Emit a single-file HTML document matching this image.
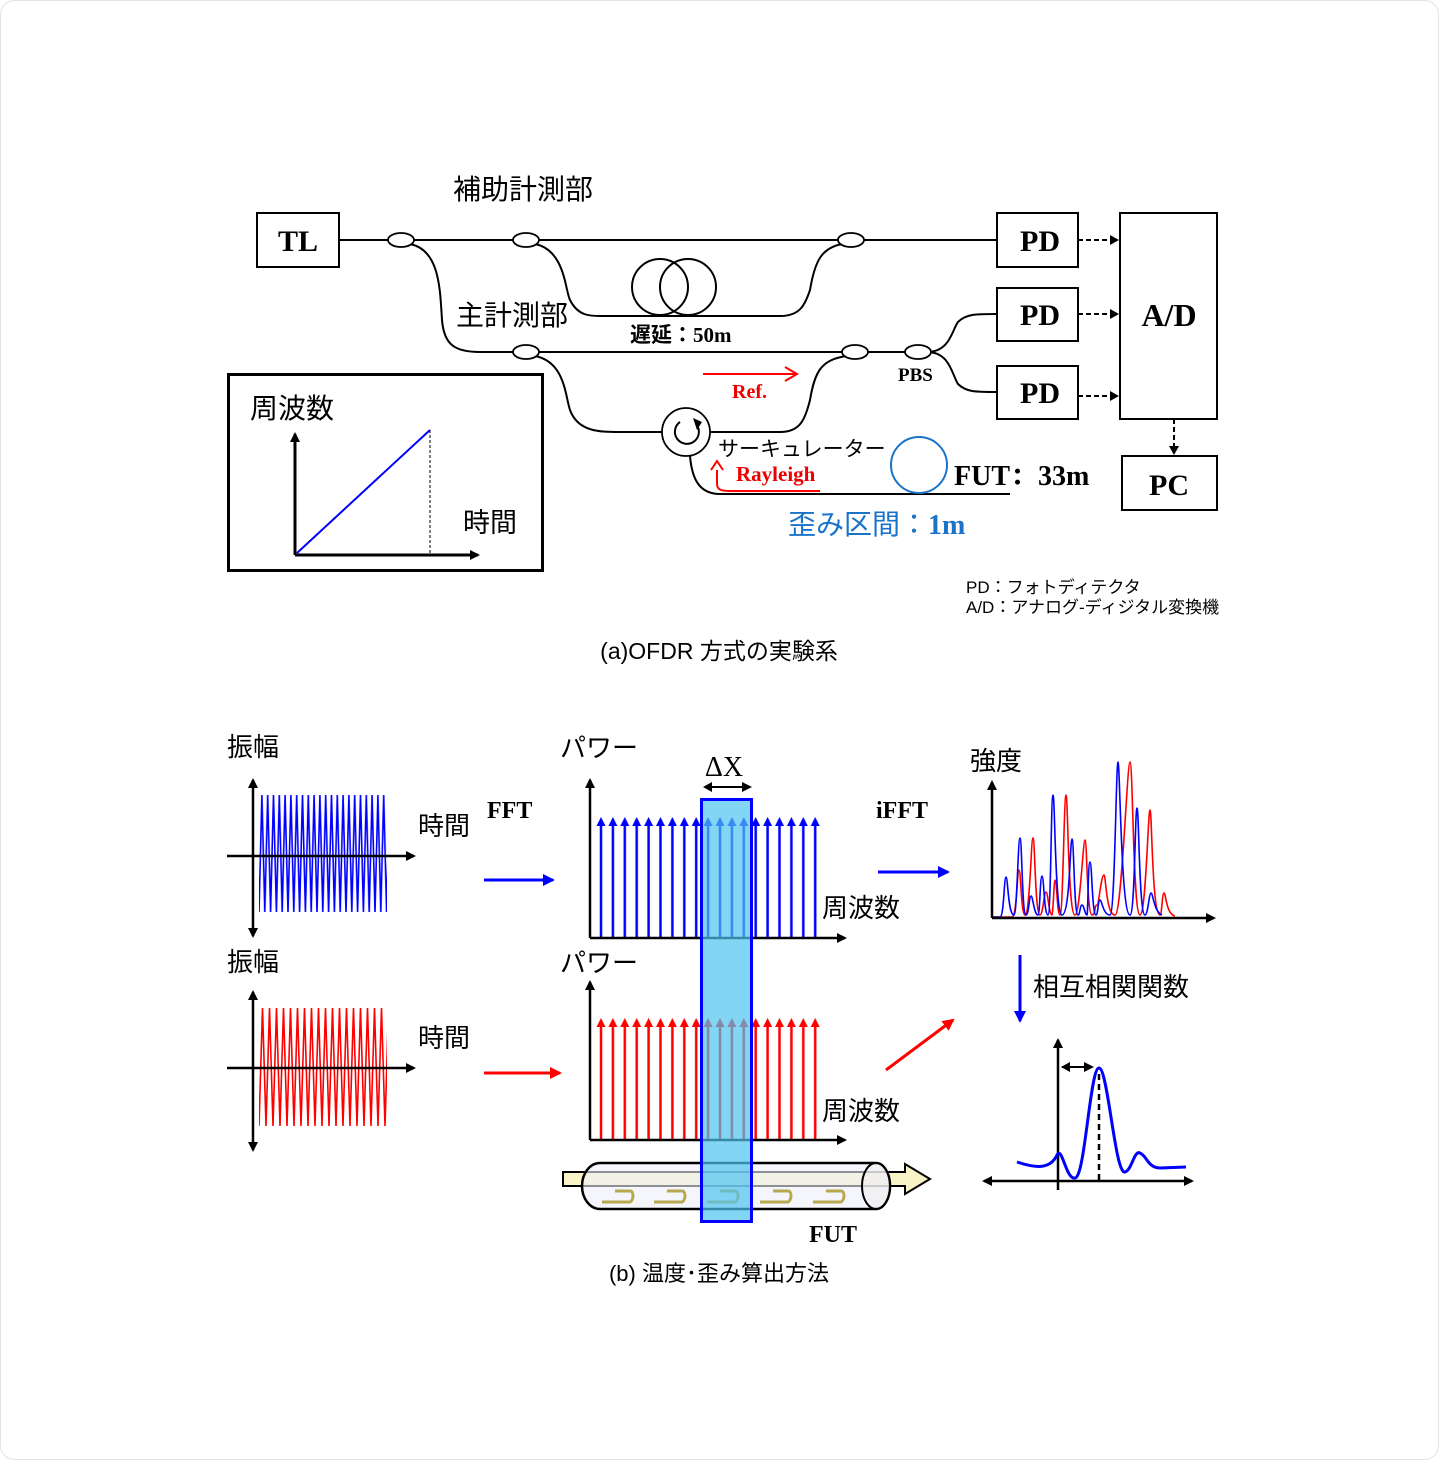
<!DOCTYPE html>
<html><head><meta charset="utf-8"><style>
html,body{margin:0;padding:0;background:#fff}
svg{display:block}
.j{font-family:"Liberation Sans","Noto Sans CJK JP",sans-serif}
.s{font-family:"Liberation Serif","Noto Serif CJK SC",serif;font-weight:bold}
</style></head><body>
<svg width="1439" height="1460" viewBox="0 0 1439 1460" xmlns="http://www.w3.org/2000/svg">
<defs>
<marker id="ah" markerWidth="10" markerHeight="10" refX="8" refY="5" orient="auto" markerUnits="userSpaceOnUse"><path d="M0,0 L10,5 L0,10 z" fill="#000"/></marker>
<marker id="ahb" markerWidth="12" markerHeight="12" refX="10" refY="6" orient="auto" markerUnits="userSpaceOnUse"><path d="M0,0 L12,6 L0,12 z" fill="#00f"/></marker>
<marker id="ahr" markerWidth="12" markerHeight="12" refX="10" refY="6" orient="auto" markerUnits="userSpaceOnUse"><path d="M0,0 L12,6 L0,12 z" fill="#f00"/></marker>
<pattern id="zb" x="259" y="795" width="5.8" height="117" patternUnits="userSpaceOnUse"><polyline points="0,117 2.9,0 5.8,117" fill="none" stroke="#00f" stroke-width="1.6"/></pattern>
<pattern id="zr" x="259" y="1008" width="7" height="118" patternUnits="userSpaceOnUse"><polyline points="0,118 3.5,0 7,118" fill="none" stroke="#f00" stroke-width="1.6"/></pattern>
<pattern id="ab" x="595" y="815" width="11.9" height="125" patternUnits="userSpaceOnUse"><line x1="6" y1="8" x2="6" y2="125" stroke="#00f" stroke-width="2.5"/><path d="M1.5,11 L6,2 L10.5,11 z" fill="#00f"/></pattern>
<pattern id="ar" x="595" y="1016" width="11.9" height="125" patternUnits="userSpaceOnUse"><line x1="6" y1="8" x2="6" y2="125" stroke="#f00" stroke-width="2.5"/><path d="M1.5,11 L6,2 L10.5,11 z" fill="#f00"/></pattern>
</defs>
<rect x="0.5" y="0.5" width="1438" height="1459" rx="14" fill="#fff" stroke="#e3e3e3"/>

<!-- (a) -->
<text x="453" y="199" font-size="28" class="j">補助計測部</text>
<rect x="257" y="213" width="82" height="54" fill="#fff" stroke="#000" stroke-width="2"/>
<text x="298" y="251" font-size="30" class="s" text-anchor="middle">TL</text>
<g fill="none" stroke="#000" stroke-width="2">
<line x1="339" y1="240" x2="997" y2="240"/>
<path d="M410,244 C440,250 440,290 442,320 C444,345 455,352 480,352 L918,352"/>
<path d="M535,244 C565,250 565,290 570,300 C578,316 590,316 600,316 L780,316 C800,316 805,305 810,290 C815,260 822,248 842,244"/>
<circle cx="660" cy="287" r="28"/><circle cx="688" cy="287" r="28"/>
<path d="M535,356 C565,362 565,395 570,410 C578,432 600,432 620,432 L662,432"/>
<path d="M710,432 L780,432 C800,432 805,420 810,400 C815,370 822,360 846,356"/>
<path d="M690,456 C692,480 700,494 720,494 L1010,494"/>
<path d="M927,352 C950,352 952,330 958,322 C966,314 975,314 997,314"/>
<path d="M927,352 C950,352 952,375 958,384 C966,392 975,392 997,392"/>
<line x1="1078" y1="240" x2="1112" y2="240" stroke-dasharray="5,3"/>
<line x1="1078" y1="314" x2="1112" y2="314" stroke-dasharray="5,3"/>
<line x1="1078" y1="396" x2="1112" y2="396" stroke-dasharray="5,3"/>
<line x1="1174" y1="419" x2="1174" y2="448" stroke-dasharray="5,3"/>
</g>
<g fill="#000"><path d="M1110,235 L1119,240 L1110,245z"/><path d="M1110,309 L1119,314 L1110,319z"/><path d="M1110,391 L1119,396 L1110,401z"/><path d="M1169,446 L1174,455 L1179,446z"/></g>
<g fill="#fff" stroke="#000" stroke-width="1.8">
<ellipse cx="401" cy="240" rx="13" ry="7"/><ellipse cx="526" cy="240" rx="13" ry="7"/><ellipse cx="851" cy="240" rx="13" ry="7"/>
<ellipse cx="526" cy="352" rx="13" ry="7"/><ellipse cx="855" cy="352" rx="13" ry="7"/><ellipse cx="918" cy="352" rx="13" ry="7"/>
<circle cx="686" cy="432" r="24"/>
</g>
<path d="M696,424 A12,12 0 1 1 680,422" fill="none" stroke="#000" stroke-width="2"/>
<path d="M693,418 L702,422 L697,430z" fill="#000"/>
<circle cx="919" cy="465" r="28" fill="none" stroke="#1a73c8" stroke-width="2"/>
<g fill="#fff" stroke="#000" stroke-width="2">
<rect x="997" y="213" width="81" height="54"/><rect x="997" y="288" width="81" height="53"/><rect x="997" y="366" width="81" height="53"/>
<rect x="1120" y="213" width="97" height="206"/><rect x="1122" y="456" width="95" height="54"/>
</g>
<g class="s" font-size="30" text-anchor="middle">
<text x="1040" y="251">PD</text><text x="1040" y="325">PD</text><text x="1040" y="403">PD</text>
<text x="1169" y="326" font-size="32">A/D</text><text x="1169" y="495">PC</text>
</g>
<text x="456" y="325" font-size="28" class="j">主計測部</text>
<text x="630" y="342" font-size="21" class="j" font-weight="bold">遅延：<tspan class="s">50m</tspan></text>
<text x="898" y="381" font-size="19" class="s">PBS</text>
<line x1="703" y1="374" x2="795" y2="374" stroke="#f00" stroke-width="2"/><path d="M785,367 L797,374 L785,381" fill="none" stroke="#f00" stroke-width="2"/>
<text x="732" y="398" font-size="20" class="s" fill="#e00">Ref.</text>
<text x="718" y="456" font-size="21" class="j">サーキュレーター</text>
<path d="M717,470 L717,484 C717,490 722,491 730,491 L820,491" fill="none" stroke="#f00" stroke-width="2"/><path d="M711,470 L717,461 L723,470" fill="none" stroke="#f00" stroke-width="2"/>
<text x="736" y="481" font-size="21" class="s" fill="#e00">Rayleigh</text>
<text x="954" y="485" font-size="28" class="s">FUT：33m</text>
<text x="788" y="534" font-size="28" class="j" fill="#1a73c8">歪み区間：<tspan class="s">1m</tspan></text>
<rect x="228.5" y="374.5" width="314" height="196" fill="#fff" stroke="#000" stroke-width="3"/>
<text x="250" y="418" font-size="28" class="j">周波数</text>
<text x="463" y="532" font-size="27" class="j">時間</text>
<line x1="295" y1="555" x2="295" y2="434" stroke="#000" stroke-width="3" marker-end="url(#ah)"/>
<line x1="295" y1="555" x2="478" y2="555" stroke="#000" stroke-width="3" marker-end="url(#ah)"/>
<line x1="297" y1="553" x2="430" y2="430" stroke="#00f" stroke-width="2"/>
<line x1="430" y1="430" x2="430" y2="553" stroke="#000" stroke-width="1" stroke-dasharray="3,2"/>
<text x="966" y="593" font-size="17" class="j">PD：フォトディテクタ</text>
<text x="966" y="613" font-size="17" class="j">A/D：アナログ-ディジタル変換機</text>
<text x="719" y="659" font-size="23" class="j" text-anchor="middle">(a)OFDR 方式の実験系</text>

<!-- (b) -->
<g class="j" font-size="26">
<text x="227" y="756">振幅</text><text x="227" y="971">振幅</text>
<text x="418" y="835">時間</text><text x="418" y="1047">時間</text>
<text x="560" y="757">パワー</text><text x="560" y="972">パワー</text>
<text x="822" y="917">周波数</text><text x="822" y="1120">周波数</text>
<text x="970" y="770">強度</text><text x="1033" y="996">相互相関関数</text>
</g>
<text x="487" y="818" font-size="24" class="s">FFT</text>
<text x="876" y="818" font-size="24" class="s">iFFT</text>
<rect x="259" y="795" width="128" height="117" fill="url(#zb)"/>
<rect x="259" y="1008" width="128" height="118" fill="url(#zr)"/>
<g stroke="#000" stroke-width="2.5">
<line x1="253" y1="856" x2="253" y2="780" marker-end="url(#ah)"/><line x1="253" y1="856" x2="253" y2="936" marker-end="url(#ah)"/>
<line x1="227" y1="856" x2="414" y2="856" marker-end="url(#ah)"/>
<line x1="253" y1="1068" x2="253" y2="992" marker-end="url(#ah)"/><line x1="253" y1="1068" x2="253" y2="1150" marker-end="url(#ah)"/>
<line x1="227" y1="1068" x2="414" y2="1068" marker-end="url(#ah)"/>
</g>
<line x1="484" y1="880" x2="553" y2="880" stroke="#00f" stroke-width="3" marker-end="url(#ahb)"/>
<line x1="484" y1="1073" x2="560" y2="1073" stroke="#f00" stroke-width="3" marker-end="url(#ahr)"/>
<rect x="595" y="815" width="226" height="124" fill="url(#ab)"/>
<rect x="595" y="1016" width="226" height="124" fill="url(#ar)"/>
<g stroke="#000" stroke-width="2.5">
<line x1="590" y1="938" x2="590" y2="780" marker-end="url(#ah)"/><line x1="590" y1="938" x2="845" y2="938" marker-end="url(#ah)"/>
<line x1="590" y1="1140" x2="590" y2="982" marker-end="url(#ah)"/><line x1="590" y1="1140" x2="845" y2="1140" marker-end="url(#ah)"/>
</g>
<!-- fiber -->
<path d="M563,1172 L905,1172 L905,1164 L930,1179 L905,1194 L905,1186 L563,1186z" fill="#f8f4c8" stroke="#000" stroke-width="2"/>
<path d="M600,1163 L876,1163 A14,23 0 0 1 876,1209 L600,1209 A18,23 0 0 1 600,1163z" fill="#eeeefa" fill-opacity="0.6" stroke="#000" stroke-width="2.5"/>
<ellipse cx="876" cy="1186" rx="14" ry="23" fill="#eee" fill-opacity="0.6" stroke="#000" stroke-width="2"/>
<g fill="none" stroke="#b8a850" stroke-width="3">
<path d="M615,1191 L630,1191 C634,1191 634,1200 630,1202 L602,1202"/><path d="M667,1191 L682,1191 C686,1191 686,1200 682,1202 L654,1202"/>
<path d="M720,1191 L735,1191 C739,1191 739,1200 735,1202 L707,1202"/><path d="M773,1191 L788,1191 C792,1191 792,1200 788,1202 L760,1202"/>
<path d="M826,1191 L841,1191 C845,1191 845,1200 841,1202 L813,1202"/>
</g>
<rect x="701.5" y="799.5" width="50" height="422" fill="#4fc3f0" fill-opacity="0.7" stroke="#00f" stroke-width="3"/>
<text x="724" y="776" font-size="28" font-family="Liberation Serif,serif" text-anchor="middle">ΔX</text>
<line x1="706" y1="787" x2="750" y2="787" stroke="#000" stroke-width="2" marker-end="url(#ah)"/>
<path d="M712,782 L703,787 L712,792z" fill="#000"/>
<text x="809" y="1242" font-size="24" class="s">FUT</text>
<line x1="878" y1="872" x2="948" y2="872" stroke="#00f" stroke-width="3" marker-end="url(#ahb)"/>
<line x1="886" y1="1070" x2="953" y2="1020" stroke="#f00" stroke-width="3" marker-end="url(#ahr)"/>
<!-- peaks -->
<g fill="none" stroke-width="1.6">
<path stroke="#f00" d="M993,917 L1012,917 C1017,917 1017,870 1019,870 C1021,870 1021,915 1025,915 C1030,915 1031,838 1033,838 C1035,838 1035,915 1040,915 C1043,915 1044,892 1046,892 C1048,892 1049,915 1052,915 C1053,915 1054,880 1055,880 C1057,880 1057,915 1060,915 C1063,915 1064,795 1066,795 C1068,795 1068,915 1075,915 C1080,915 1083,840 1085,840 C1087,840 1087,915 1092,915 C1096,915 1094,905 1097,905 C1099,905 1101,875 1104,875 C1106,875 1106,915 1115,915 C1122,915 1127,762 1130,762 C1133,762 1133,915 1140,915 C1146,915 1148,810 1150,810 C1152,810 1152,915 1160,915 C1162,915 1162,893 1164,893 C1166,893 1166,914 1175,916"/>
<path stroke="#00f" d="M993,917 L1000,917 C1004,917 1004,877 1006,877 C1008,877 1008,915 1014,915 C1017,915 1018,838 1020,838 C1022,838 1022,915 1026,915 C1029,915 1029,896 1031,896 C1033,896 1034,915 1038,915 C1040,915 1040,876 1042,876 C1044,876 1044,915 1048,915 C1051,915 1051,795 1053,795 C1055,795 1055,915 1062,915 C1070,915 1070,839 1072,839 C1074,839 1074,915 1078,915 C1080,915 1080,905 1082,905 C1084,905 1085,915 1087,915 C1088,915 1088,862 1090,862 C1092,862 1092,915 1096,915 C1098,915 1098,900 1100,900 C1102,900 1103,915 1110,915 C1115,915 1116,762 1118,762 C1120,762 1121,915 1130,915 C1135,915 1135,808 1137,808 C1139,808 1139,915 1145,915 C1148,915 1149,893 1151,893 C1153,893 1154,912 1162,915"/>
</g>
<g stroke="#000" stroke-width="2.5">
<line x1="992" y1="918" x2="992" y2="782" marker-end="url(#ah)"/><line x1="992" y1="918" x2="1214" y2="918" marker-end="url(#ah)"/>
<line x1="1058" y1="1190" x2="1058" y2="1040" marker-end="url(#ah)"/>
<line x1="1058" y1="1181" x2="1192" y2="1181" marker-end="url(#ah)"/><line x1="1058" y1="1181" x2="984" y2="1181" marker-end="url(#ah)"/>
<line x1="1099" y1="1180" x2="1099" y2="1072" stroke-dasharray="6,4"/>
</g>
<line x1="1020" y1="955" x2="1020" y2="1021" stroke="#00f" stroke-width="3" marker-end="url(#ahb)"/>
<line x1="1062" y1="1067" x2="1092" y2="1067" stroke="#000" stroke-width="2" marker-end="url(#ah)"/>
<path d="M1070,1062 L1061,1067 L1070,1072z" fill="#000"/>
<path d="M1017,1162 C1035,1168 1050,1170 1057,1155 C1062,1145 1066,1180 1075,1178 C1085,1178 1090,1068 1099,1068 C1108,1068 1115,1175 1125,1172 C1132,1170 1134,1150 1140,1153 C1147,1156 1148,1168 1160,1168 L1186,1167" fill="none" stroke="#00f" stroke-width="3"/>
<text x="719" y="1281" font-size="22" class="j" text-anchor="middle">(b) 温度･歪み算出方法</text>
</svg>
</body></html>
